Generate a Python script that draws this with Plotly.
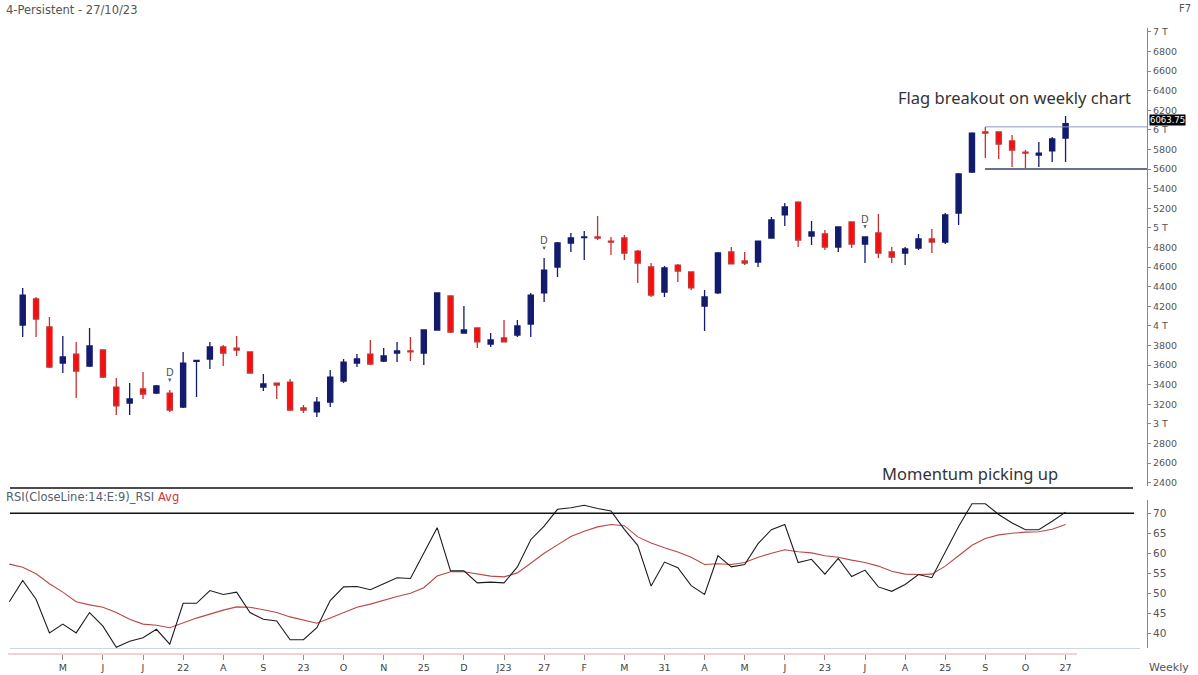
import plotly.graph_objects as go

# ---------------- data ----------------
week_idx = list(range(79))
opens = [4008, 4274, 3988, 3620, 3712, 3590, 3753, 3375, 3212, 3355,
         3314, 3314, 3171, 3636, 3661, 3784, 3773, 3733, 3375, 3416,
         3426, 3161, 3121, 3222, 3437, 3620, 3712, 3641, 3722, 3743,
         3722, 3957, 4304, 3926, 3978, 3814, 3876, 3906, 4018, 4335,
         4600, 4845, 4900, 4906, 4865, 4896, 4763, 4600, 4345, 4620,
         4549, 4202, 4335, 4753, 4661, 4651, 4896, 5131, 5263, 4916,
         4937, 4804, 5059, 4834, 4947, 4753, 4743, 4794, 4886, 4855,
         5151, 5569, 5978, 5978, 5886, 5773, 5743, 5784, 5916]
highs = [4386, 4294, 4090, 3896, 3835, 3978, 3760, 3467, 3416, 3528,
         3396, 3345, 3733, 3650, 3835, 3804, 3896, 3740, 3508, 3420,
         3457, 3192, 3274, 3549, 3661, 3712, 3855, 3773, 3835, 3886,
         3960, 4340, 4310, 4202, 3985, 3926, 4059, 4059, 4335, 4692,
         4855, 4947, 4967, 5120, 4906, 4927, 4773, 4641, 4610, 4630,
         4555, 4365, 4753, 4804, 4753, 4870, 5110, 5253, 5270, 5069,
         4978, 5010, 5065, 4910, 5141, 4804, 4804, 4937, 4988, 5151,
         5560, 5975, 6029, 5985, 5947, 5794, 5875, 5927, 6141]
lows = [3886, 3886, 3569, 3518, 3263, 3580, 3467, 3090, 3090, 3253,
        3304, 3121, 3161, 3274, 3559, 3590, 3692, 3510, 3335, 3253,
        3130, 3110, 3069, 3171, 3416, 3579, 3600, 3630, 3630, 3641,
        3600, 3950, 3926, 3920, 3773, 3784, 3830, 3886, 3886, 4243,
        4498, 4753, 4671, 4875, 4722, 4671, 4437, 4294, 4294, 4447,
        4365, 3947, 4325, 4631, 4620, 4600, 4890, 5018, 4804, 4824,
        4773, 4753, 4794, 4641, 4692, 4641, 4620, 4773, 4743, 4834,
        5029, 5560, 5712, 5702, 5620, 5610, 5620, 5671, 5671]
closes = [4314, 4069, 3579, 3682, 3539, 3794, 3477, 3182, 3253, 3304,
          3386, 3141, 3620, 3646, 3784, 3722, 3753, 3518, 3406, 3396,
          3141, 3141, 3222, 3477, 3630, 3661, 3610, 3692, 3743, 3733,
          3957, 4335, 3937, 3957, 3835, 3855, 3835, 3998, 4314, 4569,
          4845, 4896, 4906, 4896, 4855, 4743, 4641, 4314, 4590, 4559,
          4386, 4294, 4743, 4631, 4641, 4865, 5080, 5212, 4875, 4957,
          4804, 5008, 4834, 4906, 4743, 4702, 4784, 4886, 4855, 5131,
          5549, 5967, 5967, 5855, 5794, 5763, 5763, 5906, 6064]

rsi_idx = list(range(-1, 79))
rsi = [47.9, 53.2, 48.5, 40.1, 42.3, 40.1, 45.2, 41.8, 36.5, 38.0,
       38.9, 41.0, 37.3, 47.5, 47.5, 50.7, 49.7, 50.3, 45.2, 43.5,
       43.1, 38.4, 38.4, 41.4, 48.2, 51.6, 51.7, 50.9, 52.4, 53.9,
       53.7, 60.0, 66.4, 55.6, 55.6, 52.6, 52.8, 52.6, 56.6, 63.4,
       66.8, 71.0, 71.4, 72.0, 71.2, 70.6, 66.0, 62.0, 51.8, 57.8,
       56.4, 51.9, 49.7, 59.4, 56.6, 57.2, 62.4, 65.9, 67.2, 57.7,
       58.5, 54.8, 58.7, 54.2, 55.8, 51.6, 50.5, 52.2, 54.7, 53.9,
       60.3, 66.7, 72.4, 72.4, 69.7, 67.6, 65.9, 65.9, 68.0, 70.3]
rsi_avg = [57.3, 56.5, 54.9, 52.4, 50.3, 47.9, 47.1, 46.5, 45.2, 43.5,
           42.3, 42.0, 41.4, 42.7, 43.8, 44.8, 45.8, 46.6, 46.5, 45.9,
           45.2, 44.1, 43.3, 42.5, 43.8, 45.2, 46.5, 47.3, 48.3, 49.2,
           50.0, 51.4, 54.3, 55.4, 55.4, 54.8, 54.3, 54.1, 55.1, 57.5,
           60.0, 62.1, 64.2, 65.5, 66.6, 67.2, 66.9, 64.1, 62.6, 61.4,
           60.3, 59.0, 57.2, 57.4, 57.2, 57.7, 59.0, 60.0, 60.9, 60.4,
           60.1, 59.4, 59.0, 58.3, 57.7, 56.8, 55.5, 54.8, 54.7, 54.8,
           56.8, 59.4, 62.0, 63.7, 64.6, 65.0, 65.3, 65.4, 66.0, 67.2]

tick_pos = [3, 6, 9, 12, 15, 18, 21, 24, 27, 30, 33, 36, 39, 42, 45, 48,
            51, 54, 57, 60, 63, 66, 69, 72, 75, 78]
tick_labels = ["M", "J", "J", "22", "A", "S", "23", "O", "N", "25", "D", "J23",
               "27", "F", "M", "31", "A", "M", "J", "23", "J", "A", "25", "S",
               "O", "27"]
price_ticks = [2400, 2600, 2800, 3000, 3200, 3400, 3600, 3800, 4000, 4200,
               4400, 4600, 4800, 5000, 5200, 5400, 5600, 5800, 6000, 6200,
               6400, 6600, 6800, 7000]
price_tick_labels = ["2400", "2600", "2800", "3 T", "3200", "3400", "3600",
                     "3800", "4 T", "4200", "4400", "4600", "4800", "5 T",
                     "5200", "5400", "5600", "5800", "6 T", "6200", "6400",
                     "6600", "6800", "7 T"]
rsi_ticks = [40, 45, 50, 55, 60, 65, 70]
dividend_idx = [11, 39, 63]
flag_top = 6030
flag_bottom = 5600
flag_start = 72
last_price_label = "6063.75"
rsi_level = 70

# ---------------- geometry helpers (pixel -> paper) ----------------
W, H = 1198, 675
ML, MR, MT, MB = 0, 51, 28, 21
PW = W - ML - MR
PH = H - MT - MB


def pxx(x):
    return (x - ML) / PW


def pxy(y):
    return (H - MB - y) / PH


def price_at(y):
    return 5600 + (169 - y) * 10.204


def rsi_at(y):
    return 70 - (y - 513.3) / 4.0


FONT = "DejaVu Sans"
GREY = "#555555"

fig = go.Figure()
fig.add_trace(go.Candlestick(
    x=week_idx, open=opens, high=highs, low=lows, close=closes,
    increasing=dict(line=dict(color="#121b6c", width=1.3), fillcolor="#121b6c"),
    decreasing=dict(line=dict(color="#c83030", width=1.3), fillcolor="#ff0a0a"),
    whiskerwidth=0, xaxis="x", yaxis="y", showlegend=False, hoverinfo="skip"))
fig.add_trace(go.Scatter(x=rsi_idx, y=rsi_avg, mode="lines",
                         line=dict(color="#b84848", width=1.1),
                         xaxis="x", yaxis="y2", showlegend=False))
fig.add_trace(go.Scatter(x=rsi_idx, y=rsi, mode="lines",
                         line=dict(color="#1c1c1c", width=1.1),
                         xaxis="x", yaxis="y2", showlegend=False))

x_lo = (0 - 22.7) / 13.37
x_hi = (PW - 22.7) / 13.37

shapes = [
    # panel separator
    dict(type="line", xref="paper", yref="paper", x0=pxx(10), x1=pxx(1133),
         y0=pxy(488), y1=pxy(488), line=dict(color="#111111", width=1.5)),
    # RSI 70 level
    dict(type="line", xref="paper", yref="y2", x0=pxx(10), x1=pxx(1134),
         y0=rsi_level, y1=rsi_level, line=dict(color="#111111", width=1.5)),
    # bottom light line
    dict(type="line", xref="paper", yref="paper", x0=pxx(10), x1=pxx(1140),
         y0=pxy(648.5), y1=pxy(648.5), line=dict(color="#c8d8de", width=1)),
    # x axis pink line
    dict(type="line", xref="paper", yref="paper", x0=pxx(8), x1=pxx(1077),
         y0=pxy(654), y1=pxy(654), line=dict(color="#f0a4a4", width=1)),
    # flag lines
    dict(type="line", xref="x", yref="y", x0=flag_start - 0.03, x1=x_hi,
         y0=flag_top, y1=flag_top, line=dict(color="#9096c2", width=1)),
    dict(type="line", xref="x", yref="y", x0=flag_start - 0.03, x1=x_hi,
         y0=flag_bottom, y1=flag_bottom, line=dict(color="#3a3f6a", width=1.6)),
]

annotations = [
    dict(text="4-Persistent - 27/10/23", xref="paper", yref="paper",
         x=pxx(4), y=pxy(10), xanchor="left", yanchor="middle", showarrow=False,
         font=dict(family=FONT, size=11.5, color=GREY)),
    dict(text="F7", xref="paper", yref="paper", x=pxx(1177), y=pxy(8),
         xanchor="left", yanchor="middle", showarrow=False,
         font=dict(family=FONT, size=10, color=GREY)),
    dict(text="Flag breakout on weekly chart", xref="paper", yref="paper",
         x=pxx(896), y=pxy(97), xanchor="left", yanchor="middle", showarrow=False,
         font=dict(family="Noto Sans", size=16.5, color="#333333")),
    dict(text="Momentum picking up", xref="paper", yref="paper",
         x=pxx(880), y=pxy(473), xanchor="left", yanchor="middle", showarrow=False,
         font=dict(family="Noto Sans", size=16.5, color="#333333")),
    dict(text="RSI(CloseLine:14:E:9)_RSI <span style='color:#d03434'>Avg</span>",
         xref="paper", yref="paper", x=pxx(4), y=pxy(497), xanchor="left",
         yanchor="middle", showarrow=False,
         font=dict(family=FONT, size=11.5, color="#556070")),
    dict(text="Weekly", xref="paper", yref="paper", x=pxx(1147), y=pxy(667),
         xanchor="left", yanchor="middle", showarrow=False,
         font=dict(family=FONT, size=11, color=GREY)),
    dict(text=last_price_label, xref="paper", yref="y", x=pxx(1149), y=closes[-1],
         yshift=3.5, xanchor="left", yanchor="middle", showarrow=False,
         bgcolor="#000000", borderpad=0,
         font=dict(family=FONT, size=8.5, color="#ffffff")),
]
for i in dividend_idx:
    annotations.append(dict(
        text="D", xref="x", yref="y", x=week_idx[i], y=highs[i],
        showarrow=True, arrowhead=2, arrowsize=0.7, arrowwidth=1,
        arrowcolor="#666666", ax=0, ay=-17, standoff=8,
        font=dict(family=FONT, size=10, color="#555555")))

fig.update_layout(
    width=W, height=H, margin=dict(l=ML, r=MR, t=MT, b=MB),
    paper_bgcolor="#ffffff", plot_bgcolor="#ffffff", showlegend=False,
    boxgap=0.45,
    xaxis=dict(range=[x_lo, x_hi], tickvals=tick_pos, ticktext=tick_labels,
               ticks="outside", ticklen=5, tickcolor="#a08888", tickwidth=1,
               showgrid=False, zeroline=False, showline=False,
               anchor="free", position=0, rangeslider=dict(visible=False),
               tickfont=dict(family=FONT, size=9.5, color="#444444")),
    yaxis=dict(domain=[pxy(486), 1], range=[price_at(486), price_at(28)],
               side="right", tickvals=price_ticks, ticktext=price_tick_labels,
               ticks="outside", ticklen=3, tickcolor="#888888",
               showline=True, linecolor="#8a8a8a", linewidth=1,
               showgrid=False, zeroline=False, anchor="x",
               tickfont=dict(family=FONT, size=9.5, color=GREY)),
    yaxis2=dict(domain=[pxy(648), pxy(500)], range=[rsi_at(648), rsi_at(500)],
                side="right", tickvals=rsi_ticks, ticks="outside", ticklen=3,
                tickcolor="#888888", showline=True, linecolor="#8a8a8a",
                linewidth=1, showgrid=False, zeroline=False, anchor="x",
                tickfont=dict(family=FONT, size=10.5, color=GREY)),
    shapes=shapes, annotations=annotations,
)

fig.write_html("out.html")
